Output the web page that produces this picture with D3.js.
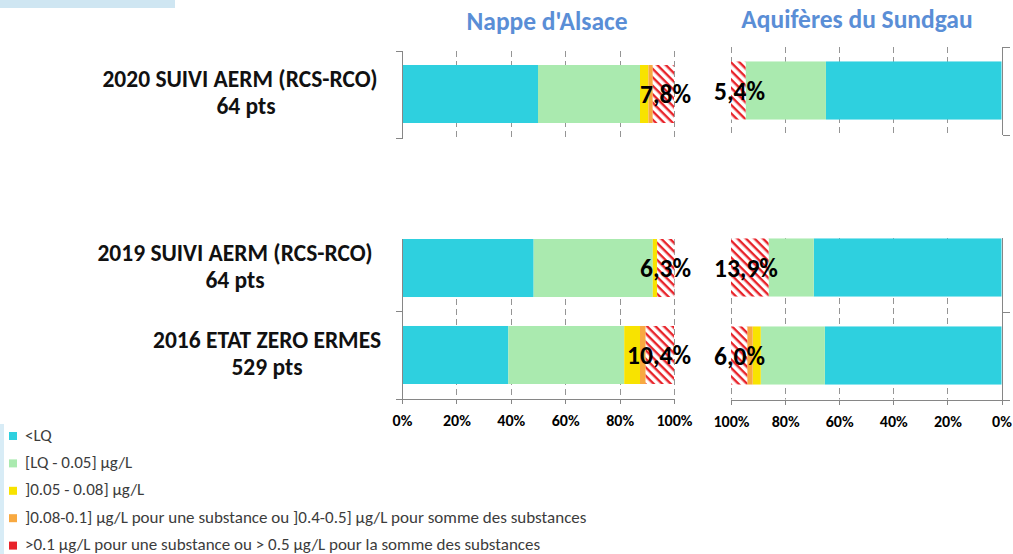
<!DOCTYPE html>
<html>
<meta http-equiv="content-type" content="text/html; charset=utf-8" />
<head>
    <title>Pesticides - Nappe d'Alsace / Aquifères du Sundgau</title>
</head>

<style>
body {
  margin: 0;
  background: #fff;
}
text {
  font-family: Carlito, Calibri, Lato, sans-serif;
}
.axis text {
  font-size: 16px;
  font-weight: bold;
  fill: #000;
}
.axis path,
.axis line {
  fill: none;
  stroke: #868686;
  shape-rendering: crispEdges;
}
.title {
  font-size: 25.5px;
  font-weight: bold;
  fill: #5a8ed6;
  text-anchor: middle;
}
.cat {
  font-size: 23.5px;
  font-weight: bold;
  fill: #111;
  text-anchor: middle;
}
.pct {
  font-size: 25.5px;
  font-weight: bold;
  fill: #000;
}
.legend text {
  font-size: 17px;
  fill: #3c3c3c;
}
</style>

<svg class="chart"></svg>
<script src="https://d3js.org/d3.v7.min.js"></script>

<script type="text/javascript">
  // campaigns: 2020 is a chart on its own, 2019 and 2016 share the lower chart
  var rowKeys = ["2020", "2019", "2016"];
  var topRows = ["2020"];
  var bottomRows = ["2019", "2016"];
  var rowNames = ["2020 SUIVI AERM (RCS-RCO)", "2019 SUIVI AERM (RCS-RCO)", "2016 ETAT ZERO ERMES"];
  var rowPoints = ["64 pts", "64 pts", "529 pts"];

  var classes = ["<LQ", "[LQ - 0.05] µg/L", "]0.05 - 0.08] µg/L",
    "]0.08-0.1] µg/L pour une substance  ou ]0.4-0.5] µg/L pour somme des substances",
    ">0.1 µg/L pour une substance ou > 0.5 µg/L pour la somme des substances"];
  var colors = ["#2ed0df", "#aaeaaf", "#f8e300", "#f8a940", "url(#hatch)"];

  // % of points per class, one row per campaign (same order as rowKeys)
  var alsaceValues = [
    [50.0, 37.5, 3.1, 1.6, 7.8],
    [48.4, 43.8, 1.6, 0.0, 6.3],
    [39.1, 42.6, 5.8, 2.1, 10.4]
  ];
  var sundgauValues = [
    [64.9, 29.7, 0.0, 0.0, 5.4],
    [69.4, 16.7, 0.0, 0.0, 13.9],
    [65.3, 23.7, 3.0, 2.0, 6.0]
  ];
  var alsaceLabels = ["7,8%", "6,3%", "10,4%"];
  var sundgauLabels = ["5,4%", "13,9%", "6,0%"];
  var tickValues = [0, 20, 40, 60, 80, 100];

  // layout only
  var catX = [240, 235, 267];
  var ptsX = [246, 235, 267];

  var width = 1013, height = 554;

  var svg = d3.select(".chart")
    .attr("width", width)
    .attr("height", height);

  var defs = svg.append("defs");
  var hatch = defs.append("pattern")
    .attr("id", "hatch")
    .attr("patternUnits", "userSpaceOnUse")
    .attr("width", 6)
    .attr("height", 6)
    .attr("patternTransform", "rotate(45)");
  hatch.append("rect").attr("width", 6).attr("height", 6).attr("fill", "#fff");
  hatch.append("rect").attr("width", 6).attr("height", 2.4).attr("fill", "#e8232a");

  // light blue decoration of the slide
  svg.append("rect").attr("x", 0).attr("y", 0).attr("width", 175).attr("height", 8).attr("fill", "#cfe6f2");
  svg.append("rect").attr("x", 0).attr("y", 424).attr("width", 4).attr("height", 130).attr("fill", "#d8ecf6");

  var panels = [
    { title: "Nappe d'Alsace", values: alsaceValues, labels: alsaceLabels, side: "left",
      x: d3.scaleLinear().domain([0, 100]).range([402, 674]),
      yTop: d3.scaleBand().domain(topRows).range([50.5, 137.5]).paddingInner(0.333).paddingOuter(0.1667),
      yBot: d3.scaleBand().domain(bottomRows).range([224.5, 398.5]).paddingInner(0.333).paddingOuter(0.1667),
      titleX: 547, titleY: 30 },
    { title: "Aquifères du Sundgau", values: sundgauValues, labels: sundgauLabels, side: "right",
      x: d3.scaleLinear().domain([0, 100]).range([1001.5, 731]),
      yTop: d3.scaleBand().domain(topRows).range([46.5, 134.5]).paddingInner(0.34).paddingOuter(0.17),
      yBot: d3.scaleBand().domain(bottomRows).range([223.5, 399.5]).paddingInner(0.34).paddingOuter(0.17),
      titleX: 857, titleY: 28 }
  ];

  function drawChart(p, y, showTop, showLabels) {
    var x = p.x;
    var y0 = y.range()[0], y1 = y.range()[1];
    // the lower chart is partly hidden behind the upper one
    var visTop = showTop ? y0 : y(y.domain()[0]);

    // dashed gridlines, each dash is a 1px rect
    var grid = svg.append("g");
    tickValues.slice(1).forEach(function(t) {
      var dashes = d3.range(Math.round(visTop), y1, 10);
      grid.selectAll(null)
        .data(dashes).enter()
        .append("rect")
        .attr("x", Math.round(x(t)))
        .attr("y", function(d) { return d; })
        .attr("width", 1)
        .attr("height", function(d) { return Math.min(6, y1 - d); })
        .attr("fill", "#959595");
    });

    y.domain().forEach(function(key) {
      var i = rowKeys.indexOf(key);
      var acc = 0;
      var segs = p.values[i].map(function(v, k) {
        var s = { start: acc, end: acc + v, k: k };
        acc += v;
        return s;
      }).filter(function(s) { return s.end > s.start; });

      svg.append("g").selectAll("rect")
        .data(segs).enter()
        .append("rect")
        .attr("x", function(d) { return Math.min(x(d.start), x(d.end)); })
        .attr("width", function(d) { return Math.abs(x(d.end) - x(d.start)); })
        .attr("y", y(key))
        .attr("height", y.bandwidth())
        .attr("fill", function(d) { return colors[d.k]; });

      svg.append("text")
        .attr("class", "pct")
        .attr("x", p.side == "left" ? x(100) + 17 : x(100) - 17)
        .attr("y", y(key) + y.bandwidth() / 2 + 9)
        .style("text-anchor", p.side == "left" ? "end" : "start")
        .text(p.labels[i]);
    });

    if (showLabels) {
      svg.append("g")
        .attr("class", "axis")
        .attr("transform", "translate(0," + (Math.round(y1) - 0.5) + ")")
        .call(d3.axisBottom(x).tickValues(tickValues).tickSize(5).tickSizeOuter(0).tickPadding(11)
          .tickFormat(function(d) { return d + "%"; }));
    }

    // category axis, ticks at band boundaries
    var bounds = y.domain().map(function(r) { return y(r) - y.step() * y.paddingOuter(); });
    bounds.push(y1);
    bounds = bounds.filter(function(b) { return b >= visTop - 0.5; });
    var ax = Math.round(x(0)) + 0.5;
    var cat = svg.append("g").attr("class", "axis");
    cat.append("line").attr("x1", ax).attr("x2", ax).attr("y1", visTop).attr("y2", y1);
    cat.selectAll(".bt")
      .data(bounds).enter()
      .append("line")
      .attr("x1", ax)
      .attr("x2", p.side == "left" ? ax - 7 : ax + 7)
      .attr("y1", function(d) { return Math.round(d) + 0.5; })
      .attr("y2", function(d) { return Math.round(d) + 0.5; });
  }

  panels.forEach(function(p) {
    drawChart(p, p.yTop, true, false);
    drawChart(p, p.yBot, false, true);

    svg.append("text")
      .attr("class", "title")
      .attr("x", p.titleX)
      .attr("y", p.titleY)
      .text(p.title);
  });

  // campaign labels on the left
  rowKeys.forEach(function(key, i) {
    var yl = topRows.indexOf(key) >= 0 ? panels[0].yTop : panels[0].yBot;
    var cy = yl(key) + yl.bandwidth() / 2;
    svg.append("text").attr("class", "cat")
      .attr("x", catX[i]).attr("y", cy - 7)
      .text(rowNames[i]);
    svg.append("text").attr("class", "cat")
      .attr("x", ptsX[i]).attr("y", cy + 20)
      .text(rowPoints[i]);
  });

  // legend
  var legend = svg.append("g").attr("class", "legend")
    .selectAll("g")
    .data(classes).enter()
    .append("g")
    .attr("transform", function(d, i) { return "translate(9," + (436 + i * 27.4) + ")"; });

  legend.append("rect")
    .attr("x", 0)
    .attr("y", -4)
    .attr("width", 8)
    .attr("height", 8)
    .attr("fill", function(d, i) { return i == 4 ? "#e8232a" : colors[i]; });

  legend.append("text")
    .attr("x", 16)
    .attr("y", 4.5)
    .text(function(d) { return d; });
</script>

</html>
